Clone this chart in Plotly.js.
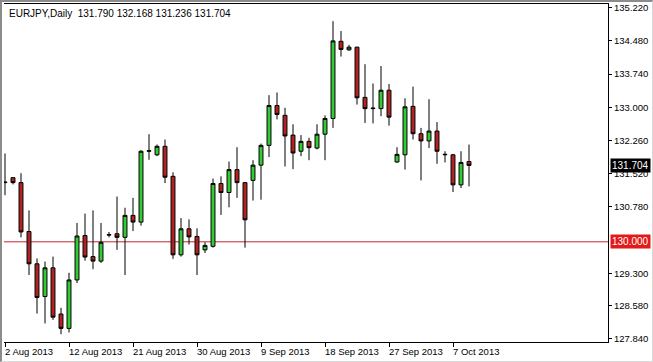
<!DOCTYPE html>
<html>
<head>
<meta charset="utf-8">
<script src="https://cdn.plot.ly/plotly-3.0.1.min.js"></script>
<style>
  html, body { margin: 0; padding: 0; background: #ffffff; }
  #wrap { position: relative; width: 653px; height: 362px; overflow: hidden; }
  #chart { position: absolute; left: 0; top: 0; width: 653px; height: 362px; }
  #frame { position: absolute; left: 0; top: 0; width: 653px; height: 362px; box-sizing: border-box;
           border-left: 2px solid #8c8c8c; border-top: 2px solid #8c8c8c;
           border-right: 1px solid #d8d8d8; border-bottom: 1px solid #d8d8d8; pointer-events: none; }
</style>
</head>
<body>
<div id="wrap">
  <div id="chart"></div>
  <div id="frame"></div>
</div>
<script>
// ---- data (EURJPY daily) ----
const dates = [
  "2013-08-02","2013-08-04","2013-08-05","2013-08-06","2013-08-07","2013-08-08","2013-08-09",
  "2013-08-11","2013-08-12","2013-08-13","2013-08-14","2013-08-15","2013-08-16",
  "2013-08-18","2013-08-19","2013-08-20","2013-08-21","2013-08-22","2013-08-23",
  "2013-08-25","2013-08-26","2013-08-27","2013-08-28","2013-08-29","2013-08-30",
  "2013-09-01","2013-09-02","2013-09-03","2013-09-04","2013-09-05","2013-09-06",
  "2013-09-08","2013-09-09","2013-09-10","2013-09-11","2013-09-12","2013-09-13",
  "2013-09-15","2013-09-16","2013-09-17","2013-09-18","2013-09-19","2013-09-20",
  "2013-09-22","2013-09-23","2013-09-24","2013-09-25","2013-09-26","2013-09-27",
  "2013-09-29","2013-09-30","2013-10-01","2013-10-02","2013-10-03","2013-10-04",
  "2013-10-06","2013-10-07","2013-10-08","2013-10-09"
];
const openP = [
  131.32,131.43,131.32,130.23,129.51,128.78,129.42,
  128.39,128.07,129.15,130.14,129.67,129.57,
  130.15,130.18,130.10,130.59,130.44,132.02,
  131.94,132.13,131.46,129.71,130.29,130.12,
  129.82,129.90,131.30,131.10,131.61,131.32,
  131.37,131.71,132.15,133.04,132.82,132.38,
  132.02,132.24,132.09,132.40,132.75,134.47,
  134.28,134.34,133.22,132.97,132.97,133.38,
  131.78,131.94,133.02,132.41,132.25,132.47,
  131.94,131.94,131.27,131.790
];
const highP = [
  131.97,131.44,131.53,130.70,129.63,129.56,129.67,
  128.53,129.31,130.42,130.63,130.70,130.42,
  130.22,131.01,130.76,130.98,132.04,132.40,
  132.17,132.28,131.55,130.53,130.50,130.30,
  129.99,131.41,131.46,131.79,132.11,131.33,
  131.82,132.19,133.27,133.33,132.99,132.62,
  132.38,132.32,132.62,132.82,134.92,134.70,
  134.39,134.35,133.96,133.53,133.92,133.52,
  132.11,133.20,133.46,132.54,133.18,132.67,
  132.02,131.96,132.02,132.168
];
const lowP = [
  131.04,131.28,130.10,129.26,128.40,128.18,128.26,
  127.94,127.98,129.08,129.58,129.39,129.53,
  130.10,129.82,129.26,130.24,130.36,131.83,
  131.91,131.31,129.62,129.67,129.94,129.26,
  129.75,129.87,130.60,130.77,130.98,129.87,
  130.92,130.94,131.89,132.73,131.68,131.62,
  131.91,131.82,132.06,131.82,132.54,134.13,
  134.26,133.06,132.65,132.64,132.80,132.59,
  131.76,131.61,132.28,131.37,132.09,131.74,
  131.77,131.11,131.20,131.236
];
const closeP = [
  131.33,131.32,130.22,129.51,128.76,129.42,128.32,
  128.07,129.15,130.13,129.66,129.57,129.99,
  130.16,130.10,130.59,130.44,132.02,132.03,
  132.13,131.44,129.71,130.29,130.11,129.71,
  129.92,131.30,131.10,131.61,131.32,130.49,
  131.71,132.15,133.04,132.84,132.36,131.98,
  132.24,132.10,132.40,132.75,134.48,134.29,
  134.34,133.21,132.97,132.98,133.38,132.78,
  131.95,133.01,132.41,132.25,132.47,132.02,
  131.95,131.27,131.77,131.704
];
const tickDates = ["2013-08-02","2013-08-12","2013-08-21","2013-08-30","2013-09-09","2013-09-18","2013-09-27","2013-10-07"];
const tickDateLabels = ["2 Aug 2013","12 Aug 2013","21 Aug 2013","30 Aug 2013","9 Sep 2013","18 Sep 2013","27 Sep 2013","7 Oct 2013"];
const priceTicks = [135.22,134.48,133.74,133.00,132.26,131.52,130.78,129.30,128.58,127.84];
const priceTickLabels = ["135.220","134.480","133.740","133.000","132.260","131.520","130.780","129.300","128.580","127.840"];
const symbolTitle = "EURJPY,Daily";
const levelLine = 130.000;
const lastClose = 131.704;

// ---- chart ----
const FONT = "Liberation Sans, Arial, sans-serif";
const FS = 9.5;
const trace = {
  type: "candlestick",
  x: dates, open: openP, high: highP, low: lowP, close: closeP,
  increasing: { line: { color: "#000000", width: 1 }, fillcolor: "#32CD32" },
  decreasing: { line: { color: "#000000", width: 1 }, fillcolor: "#B22222" },
  whiskerwidth: 0,
  hoverinfo: "skip",
  showlegend: false
};

const last = openP.length - 1;
const titleText = symbolTitle + "\u00A0\u00A0" + openP[last].toFixed(3) + " " + highP[last].toFixed(3) + " " + lowP[last].toFixed(3) + " " + closeP[last].toFixed(3);

// date labels: left-aligned at their tick, like the terminal draws them
const dateAnnotations = tickDates.map((d, i) => ({
  xref: "x", x: d, xanchor: "left", xshift: -1,
  yref: "paper", y: 0, yanchor: "top", yshift: -3,
  text: tickDateLabels[i], showarrow: false,
  font: { family: FONT, size: FS, color: "#000000" }, borderpad: 0
}));

const layout = {
  width: 653, height: 362,
  margin: { l: 4, r: 45, t: 4, b: 20, pad: 0 },
  paper_bgcolor: "#ffffff", plot_bgcolor: "#ffffff",
  font: { family: FONT, size: FS, color: "#000000" },
  title: { text: titleText, x: 9 / 653, xanchor: "left", xref: "container",
           y: 1 - 13 / 362, yanchor: "middle", yref: "container",
           font: { family: FONT, size: 10, color: "#000000" } },
  xaxis: {
    type: "category",
    range: [-0.125, 75.375],
    rangeslider: { visible: false },
    tickmode: "array", tickvals: tickDates, ticktext: tickDateLabels,
    showticklabels: false,
    ticks: "outside", ticklen: 4, tickcolor: "#000000", tickwidth: 1,
    showline: true, linecolor: "#000000", linewidth: 1, mirror: true,
    showgrid: false, zeroline: false, fixedrange: true
  },
  yaxis: {
    side: "right",
    range: [127.7664, 135.3025],
    tickmode: "array", tickvals: priceTicks, ticktext: priceTickLabels,
    ticks: "outside", ticklen: 3, tickcolor: "#000000", tickwidth: 1,
    showline: true, linecolor: "#000000", linewidth: 1,
    showgrid: false, zeroline: false, fixedrange: true,
    tickfont: { family: FONT, size: FS, color: "#000000" }
  },
  shapes: [
    { type: "line", xref: "paper", x0: 0, x1: 1, yref: "y", y0: levelLine, y1: levelLine,
      line: { color: "#C0282D", width: 1 }, layer: "below" }
  ],
  annotations: dateAnnotations.concat([
    { xref: "paper", x: 1, xanchor: "left", xshift: 2, yref: "y", y: lastClose, yanchor: "middle",
      text: lastClose.toFixed(3), showarrow: false, bgcolor: "#000000",
      font: { family: FONT, size: 10, color: "#ffffff" }, borderpad: 1 },
    { xref: "paper", x: 1, xanchor: "left", xshift: 2, yref: "y", y: levelLine, yanchor: "middle",
      text: levelLine.toFixed(3), showarrow: false, bgcolor: "#E21A1A",
      font: { family: FONT, size: 10, color: "#ffffff" }, borderpad: 1 }
  ])
};

Plotly.newPlot("chart", [trace], layout, { staticPlot: true, displayModeBar: false });
</script>
</body>
</html>
